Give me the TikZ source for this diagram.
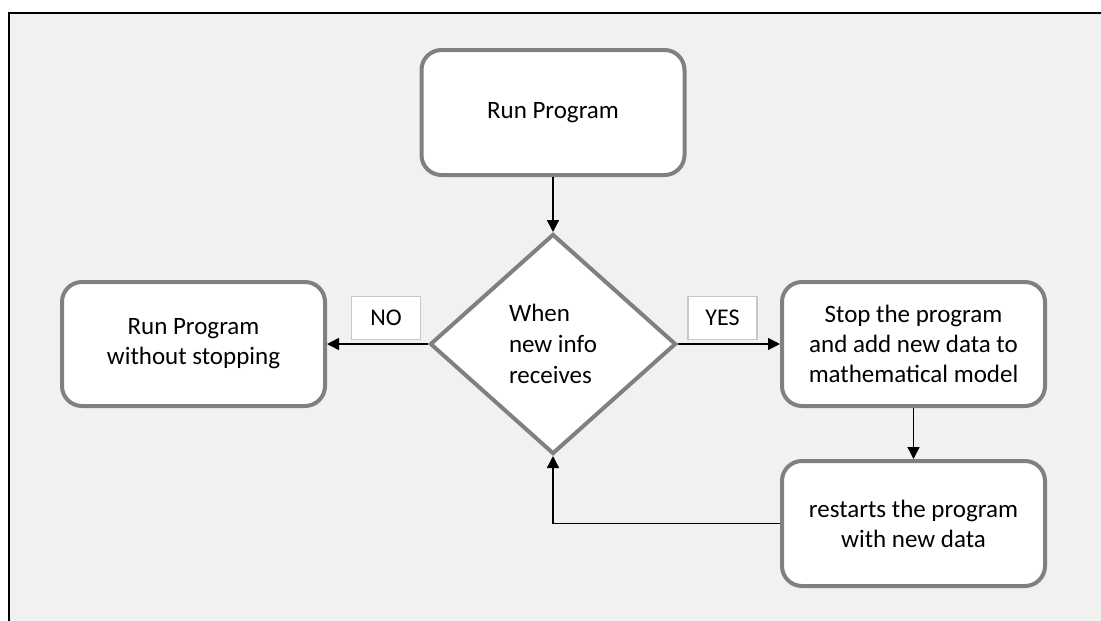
\documentclass[tikz,border=0pt]{standalone}
\usepackage{fontspec}
\setmainfont{Carlito}
\usetikzlibrary{shapes.geometric,arrows.meta}
\definecolor{bg}{HTML}{F1F1F1}
\definecolor{edge}{HTML}{808080}
\definecolor{lbl}{HTML}{C8C8C8}
\begin{document}
\begin{tikzpicture}[x=1pt,y=-1pt,
  box/.style={draw=edge, line width=4pt, fill=white, rounded corners=20pt,
    minimum width=263pt, minimum height=124pt, align=center, inner sep=0pt,
    font=\fontsize{25}{30}\selectfont},
  decision/.style={diamond, draw=edge, line width=4pt, fill=white,
    minimum width=246pt, minimum height=220pt, inner sep=0pt, align=left,
    font=\fontsize{25}{31}\selectfont},
  tag/.style={draw=lbl, line width=1.5pt, fill=white, minimum width=69pt,
    minimum height=43pt, inner sep=0pt, font=\fontsize{24}{28}\selectfont},
  conn/.style={line width=1.5pt, -{Triangle[length=12pt,width=12pt]}}]
\useasboundingbox (0,0) rectangle (1101,621);
\fill[bg] (9.3,12.7) rectangle (1120,640);
\draw[line width=2pt] (9.3,640) -- (9.3,12.7) -- (1120,12.7);

\node[box, minimum height=125pt] (run) at (553,112.5) {Run Program};
\node[decision] (dec) at (553,344) {When\\new info\\receives};
\node[box] (nostop) at (193.5,344) {Run Program\\without stopping};
\node[box] (stop) at (913.5,344) {Stop the program\\and add new data to\\mathematical model};
\node[box, minimum height=125pt] (restart) at (913.5,523.5) {restarts the program\\with new data};

\node[tag] (no) at (386,318) {NO};
\node[tag] (yes) at (722.5,318) {YES};

\draw[conn] (run.south) -- (dec.north);
\draw[conn] (dec.west) -- (nostop.east);
\draw[conn] (dec.east) -- (stop.west);
\draw[conn] (stop.south) -- (restart.north);
\draw[conn] (restart.west) -| (dec.south);
\end{tikzpicture}
\end{document}
